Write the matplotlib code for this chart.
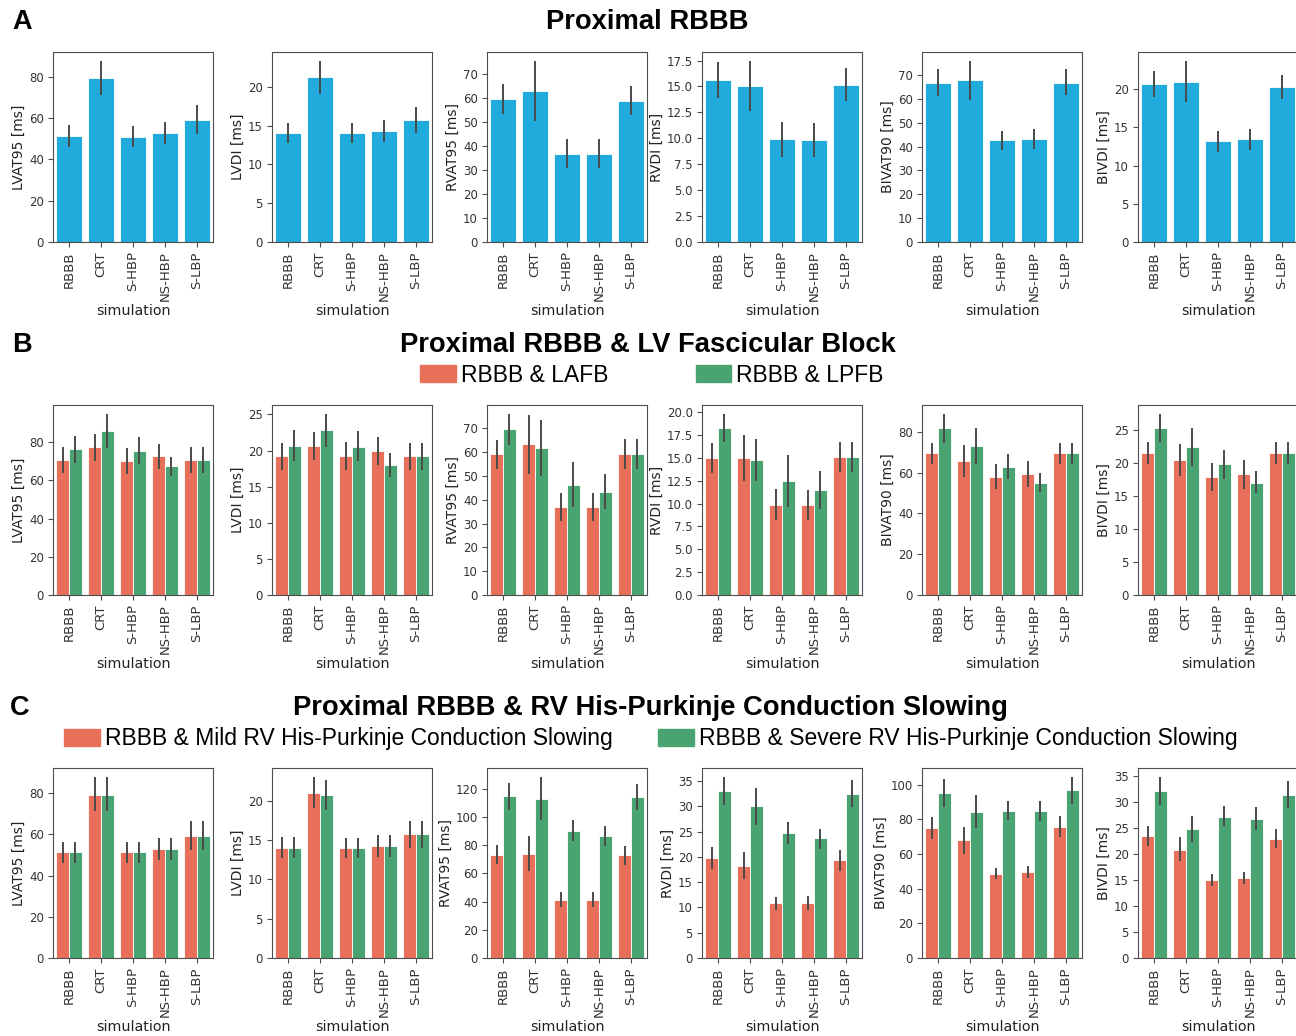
import numpy as np
import matplotlib
matplotlib.use("Agg")
import matplotlib.pyplot as plt
from matplotlib.patches import Patch
from matplotlib.ticker import MultipleLocator

plt.rcParams["font.family"] = "DejaVu Sans"
plt.rcParams["axes.edgecolor"] = "#4d4d4d"
plt.rcParams["xtick.color"] = "#4d4d4d"
plt.rcParams["ytick.color"] = "#4d4d4d"
plt.rcParams["xtick.labelcolor"] = "#333333"
plt.rcParams["ytick.labelcolor"] = "#333333"
plt.rcParams["axes.labelcolor"] = "#222222"

sims = ["RBBB", "CRT", "S-HBP", "NS-HBP", "S-LBP"]
metrics = ["LVAT95", "LVDI", "RVAT95", "RVDI", "BIVAT90", "BIVDI"]

# rows follow metrics, columns follow sims
# A: proximal RBBB
prox_mean = [[51.3, 79.4, 51.1, 52.7, 59.3],
             [14.0, 21.2, 14.0, 14.25, 15.7],
             [59.7, 63.0, 36.9, 36.7, 59.1],
             [15.6, 15.0, 9.9, 9.85, 15.15],
             [66.9, 67.9, 42.6, 43.3, 66.9],
             [20.65, 21.0, 13.2, 13.45, 20.25]]
prox_lo = [[46.2, 71.2, 46.2, 47.5, 52.3],
           [12.7, 19.1, 12.7, 12.9, 14.0],
           [53.4, 50.7, 30.9, 30.9, 53.0],
           [13.85, 12.65, 8.2, 8.2, 13.55],
           [61.3, 59.6, 38.5, 39.2, 61.7],
           [19.0, 18.4, 11.8, 12.05, 18.75]]
prox_hi = [[56.5, 87.7, 56.3, 58.2, 66.2],
           [15.3, 23.3, 15.3, 15.7, 17.4],
           [66.0, 75.6, 42.9, 42.9, 65.3],
           [17.35, 17.45, 11.6, 11.45, 16.75],
           [72.7, 75.9, 46.7, 47.5, 72.4],
           [22.35, 23.7, 14.55, 14.85, 21.85]]

# B: RBBB & LAFB
lafb_mean = [[70.8, 77.4, 70.4, 72.7, 70.8],
             [19.2, 20.6, 19.3, 19.9, 19.2],
             [59.1, 63.3, 37.1, 37.0, 59.2],
             [15.0, 15.0, 9.9, 9.82, 15.1],
             [69.6, 65.8, 58.1, 59.4, 69.6],
             [21.45, 20.45, 17.9, 18.35, 21.45]]
lafb_lo = [[64.0, 70.3, 63.5, 66.1, 64.0],
           [17.3, 18.7, 17.3, 18.0, 17.3],
           [52.9, 50.7, 31.1, 31.1, 53.1],
           [13.4, 12.5, 8.25, 8.25, 13.5],
           [64.3, 58.1, 51.8, 52.9, 64.3],
           [19.9, 18.0, 15.8, 16.1, 19.9]]
lafb_hi = [[77.3, 84.3, 77.2, 79.1, 77.4],
           [21.1, 22.5, 21.2, 21.9, 21.1],
           [65.1, 75.6, 43.0, 43.0, 65.4],
           [16.6, 17.5, 11.6, 11.5, 16.7],
           [74.8, 73.5, 64.5, 65.8, 74.8],
           [23.1, 22.9, 20.0, 20.5, 23.1]]

# B: RBBB & LPFB
lpfb_mean = [[76.5, 86.1, 75.7, 67.5, 70.8],
             [20.65, 22.8, 20.55, 18.0, 19.2],
             [69.6, 61.6, 46.2, 43.4, 59.2],
             [18.25, 14.8, 12.45, 11.5, 15.1],
             [82.0, 73.0, 63.0, 55.0, 69.6],
             [25.3, 22.4, 19.8, 17.0, 21.45]]
lpfb_lo = [[69.2, 76.9, 68.7, 62.1, 64.0],
           [18.5, 20.5, 18.6, 16.4, 17.3],
           [63.0, 50.0, 36.8, 36.1, 53.1],
           [16.7, 12.5, 9.6, 9.4, 13.5],
           [74.6, 64.2, 56.7, 50.4, 64.3],
           [23.1, 19.6, 17.6, 15.4, 19.9]]
lpfb_hi = [[83.5, 94.8, 82.6, 72.5, 77.4],
           [22.9, 25.05, 22.7, 19.6, 21.1],
           [76.0, 73.4, 55.9, 50.8, 65.4],
           [19.8, 17.1, 15.3, 13.6, 16.7],
           [88.8, 82.0, 69.4, 59.9, 74.8],
           [27.4, 25.3, 22.0, 18.75, 23.1]]

# C: mild RV His-Purkinje slowing
mild_mean = [[51.3, 79.2, 51.2, 52.7, 59.3],
             [14.0, 21.05, 14.0, 14.25, 15.75],
             [73.2, 73.9, 41.1, 41.1, 72.8],
             [19.8, 18.2, 10.8, 10.8, 19.3],
             [75.0, 67.9, 48.65, 49.6, 75.6],
             [23.45, 20.8, 15.0, 15.3, 22.95]]
mild_lo = [[46.2, 71.3, 46.2, 47.5, 52.4],
           [12.7, 19.15, 12.7, 12.9, 14.0],
           [66.4, 61.4, 35.9, 35.9, 65.7],
           [17.7, 15.55, 9.4, 9.4, 17.3],
           [68.8, 60.2, 45.8, 46.3, 69.8],
           [21.5, 18.6, 13.9, 14.2, 21.1]]
mild_hi = [[56.5, 87.8, 56.5, 58.2, 66.3],
           [15.4, 23.05, 15.3, 15.7, 17.4],
           [80.3, 86.7, 46.5, 46.5, 79.6],
           [21.95, 20.95, 12.1, 12.2, 21.3],
           [81.3, 75.4, 51.7, 52.9, 81.7],
           [25.45, 23.2, 16.1, 16.5, 24.8]]

# C: severe RV His-Purkinje slowing
severe_mean = [[51.3, 79.2, 51.2, 52.7, 59.3],
               [14.0, 20.75, 14.0, 14.25, 15.75],
               [114.6, 112.9, 90.2, 86.2, 113.9],
               [33.0, 30.0, 24.65, 23.65, 32.5],
               [95.2, 84.2, 85.0, 84.6, 96.7],
               [32.1, 24.8, 27.2, 26.8, 31.4]]
severe_lo = [[46.2, 71.3, 46.2, 47.5, 52.4],
             [12.7, 18.8, 12.7, 12.9, 14.0],
             [105.1, 98.0, 82.7, 79.4, 104.7],
             [30.3, 26.4, 22.5, 21.55, 29.9],
             [87.1, 75.0, 79.4, 79.2, 89.0],
             [29.4, 22.4, 25.3, 24.7, 28.85]]
severe_hi = [[56.5, 87.8, 56.5, 58.2, 66.3],
             [15.4, 22.7, 15.3, 15.7, 17.4],
             [124.0, 128.3, 97.8, 93.5, 123.1],
             [35.8, 33.6, 26.9, 25.6, 35.3],
             [103.5, 93.8, 90.4, 90.4, 104.4],
             [34.8, 27.4, 29.3, 29.0, 34.0]]

# y tick spacing per row, per metric
tick_step = [[20, 5, 10, 2.5, 10, 5],
             [20, 5, 10, 2.5, 20, 5],
             [20, 5, 20, 5, 20, 5]]

BLUE = "#21abdd"
RED = "#e8705b"
GREEN = "#4aa472"
ERR = "#4a4a4a"

W, H = 1296, 1036
fig = plt.figure(figsize=(W / 100, H / 100), dpi=100)

col_left = [53, 272, 487, 702, 922, 1138]
ax_w, ax_h = 160, 190
row_top = [52, 405, 768]


def draw_bars(ax, groups, width, step):
    x = np.arange(len(sims))
    n = len(groups)
    for k, (mean, lo, hi, color) in enumerate(groups):
        pos = x + (k - (n - 1) / 2) * width
        ax.bar(pos, mean, width=width, color=color, edgecolor="white", linewidth=0.6)
        for p, l, h in zip(pos, lo, hi):
            ax.plot([p, p], [l, h], color=ERR, lw=1.4, solid_capstyle="butt")
    ax.set_xlim(-0.5, len(sims) - 0.5)
    ax.set_ylim(0, None)
    ax.yaxis.set_major_locator(MultipleLocator(step))
    ax.set_xticks(x)
    ax.set_xticklabels(sims, rotation=90, fontsize=9.5)
    ax.tick_params(axis="y", labelsize=8.5, length=3.5, pad=3)
    ax.tick_params(axis="x", length=3.5, pad=3)
    ax.set_xlabel("simulation", fontsize=10.3, labelpad=2)


rows = [
    [(prox_mean, prox_lo, prox_hi, BLUE)],
    [(lafb_mean, lafb_lo, lafb_hi, RED), (lpfb_mean, lpfb_lo, lpfb_hi, GREEN)],
    [(mild_mean, mild_lo, mild_hi, RED), (severe_mean, severe_lo, severe_hi, GREEN)],
]

for r, series in enumerate(rows):
    for m, name in enumerate(metrics):
        ax = fig.add_axes([col_left[m] / W, 1 - (row_top[r] + ax_h) / H, ax_w / W, ax_h / H])
        groups = [(s[0][m], s[1][m], s[2][m], s[3]) for s in series]
        draw_bars(ax, groups, 0.8 / len(groups), tick_step[r][m])
        ax.set_ylabel(f"{name} [ms]", fontsize=10, labelpad=2)

head = dict(family="Liberation Sans", weight="bold", va="center")
fig.text(12 / W, 1 - 22 / H, "A", fontsize=19.5, ha="left", **head)
fig.text(647 / W, 1 - 22 / H, "Proximal RBBB", fontsize=19.7, ha="center", **head)
fig.text(12 / W, 1 - 345 / H, "B", fontsize=19.5, ha="left", **head)
fig.text(648 / W, 1 - 345 / H, "Proximal RBBB & LV Fascicular Block", fontsize=19.7, ha="center", **head)
fig.text(10 / W, 1 - 708 / H, "C", fontsize=19.5, ha="left", **head)
fig.text(650 / W, 1 - 708 / H, "Proximal RBBB & RV His-Purkinje Conduction Slowing", fontsize=19.7,
         ha="center", **head)

leg_kw = dict(loc="center", ncol=2, frameon=False, prop={"family": "Liberation Sans", "size": 16.5},
              handlelength=1.55, handleheight=0.75, handletextpad=0.22, borderpad=0, borderaxespad=0)
fig.legend([Patch(color=RED), Patch(color=GREEN)], ["RBBB & LAFB", "RBBB & LPFB"],
           bbox_to_anchor=(652 / W, 1 - 375 / H), columnspacing=3.8, **leg_kw)
fig.legend([Patch(color=RED), Patch(color=GREEN)],
           ["RBBB & Mild RV His-Purkinje Conduction Slowing",
            "RBBB & Severe RV His-Purkinje Conduction Slowing"],
           bbox_to_anchor=(651 / W, 1 - 739 / H), columnspacing=2.0, **leg_kw)

fig.savefig("out.png", dpi=100)
